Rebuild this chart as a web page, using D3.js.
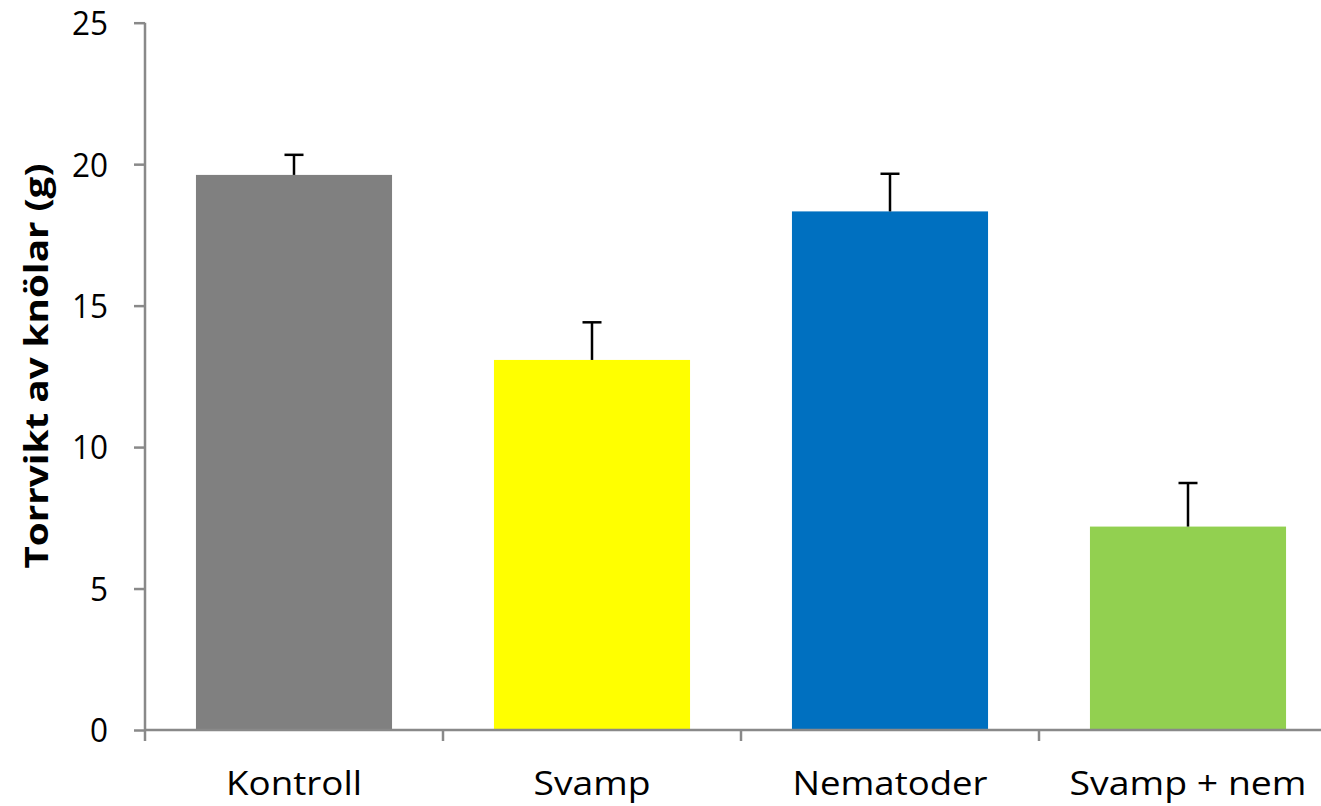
<!DOCTYPE html>
<html>
<head>
<meta charset="utf-8">
<script src="https://cdn.jsdelivr.net/npm/d3@7"></script>
<style>
  html, body { margin: 0; padding: 0; background: #fff; }
  svg { display: block; }
  text { font-family: "Open Sans", "Liberation Sans", sans-serif; fill: #000; }
</style>
</head>
<body>
<svg id="chart" width="1321" height="806"></svg>
<script>
const categories = ["Kontroll", "Svamp", "Nematoder", "Svamp + nem"];
const means = [19.62, 13.08, 18.33, 7.19];
const errors = [0.71, 1.33, 1.33, 1.54];
const colors = ["#808080", "#FFFF00", "#0070C0", "#92D050"];
const yTicks = [0, 5, 10, 15, 20, 25];
const yLabel = "Torrvikt av knölar (g)";
const labelWidths = [136, 117, 195, 237];

const svg = d3.select("#chart");
const axisColor = "#898989";

const x = d3.scaleBand().domain(categories).range([145, 1337])
  .paddingInner(0.342).paddingOuter(0.171);
const y = d3.scaleLinear().domain([0, 25]).range([730, 22.7]);

const data = categories.map((c, i) => ({ c, m: means[i], e: errors[i], col: colors[i], w: labelWidths[i] }));

// bars
svg.append("g").selectAll("rect").data(data).join("rect")
  .attr("x", d => x(d.c))
  .attr("y", d => y(d.m))
  .attr("width", x.bandwidth())
  .attr("height", d => y(0) - y(d.m))
  .attr("fill", d => d.col);

// error bars
const eb = svg.append("g").attr("stroke", "#000").attr("stroke-width", 2.5);
eb.selectAll("line.v").data(data).join("line").attr("class", "v")
  .attr("x1", d => x(d.c) + x.bandwidth() / 2)
  .attr("x2", d => x(d.c) + x.bandwidth() / 2)
  .attr("y1", d => y(d.m))
  .attr("y2", d => y(d.m + d.e));
eb.selectAll("line.h").data(data).join("line").attr("class", "h")
  .attr("x1", d => x(d.c) + x.bandwidth() / 2 - 9.5)
  .attr("x2", d => x(d.c) + x.bandwidth() / 2 + 9.5)
  .attr("y1", d => y(d.m + d.e))
  .attr("y2", d => y(d.m + d.e));

// y axis
const yAxis = d3.axisLeft(y).tickValues(yTicks).tickSize(11).tickPadding(26).tickFormat(d3.format("d"));
const gy = svg.append("g").attr("transform", "translate(145,0)").call(yAxis);
gy.select(".domain").attr("stroke", axisColor).attr("stroke-width", 2.5).attr("d", `M0,${y(25)}V${y(0)}`);
gy.selectAll(".tick line").attr("stroke", axisColor).attr("stroke-width", 2.5);
gy.selectAll(".tick text").attr("font-size", 33).attr("font-family", "Open Sans").attr("fill", "#000")
  .attr("dy", "0.36em").attr("textLength", 36).attr("lengthAdjust", "spacingAndGlyphs")
  .each(function(d) { if (d < 10) d3.select(this).attr("textLength", 18); });

// x axis
const step = x.step();
const boundaries = categories.map(c => x(c) - step * x.paddingInner() / 2);
boundaries.push(x(categories[categories.length - 1]) + x.bandwidth() + step * x.paddingInner() / 2);
svg.append("line").attr("x1", 145).attr("x2", 1321).attr("y1", y(0)).attr("y2", y(0))
  .attr("stroke", axisColor).attr("stroke-width", 2.5);
svg.append("g").selectAll("line").data(boundaries).join("line")
  .attr("x1", d => d).attr("x2", d => d).attr("y1", y(0)).attr("y2", y(0) + 11)
  .attr("stroke", axisColor).attr("stroke-width", 2.5);

svg.append("g").selectAll("text").data(data).join("text")
  .attr("x", d => x(d.c) + x.bandwidth() / 2)
  .attr("y", 795)
  .attr("text-anchor", "middle")
  .attr("font-size", 33)
  .attr("textLength", d => d.w)
  .attr("lengthAdjust", "spacingAndGlyphs")
  .text(d => d.c);

// y label
svg.append("text")
  .attr("transform", "translate(48,366) rotate(-90)")
  .attr("text-anchor", "middle")
  .attr("font-size", 33)
  .attr("font-weight", "bold")
  .attr("textLength", 405)
  .attr("lengthAdjust", "spacingAndGlyphs")
  .text(yLabel);
</script>
</body>
</html>
